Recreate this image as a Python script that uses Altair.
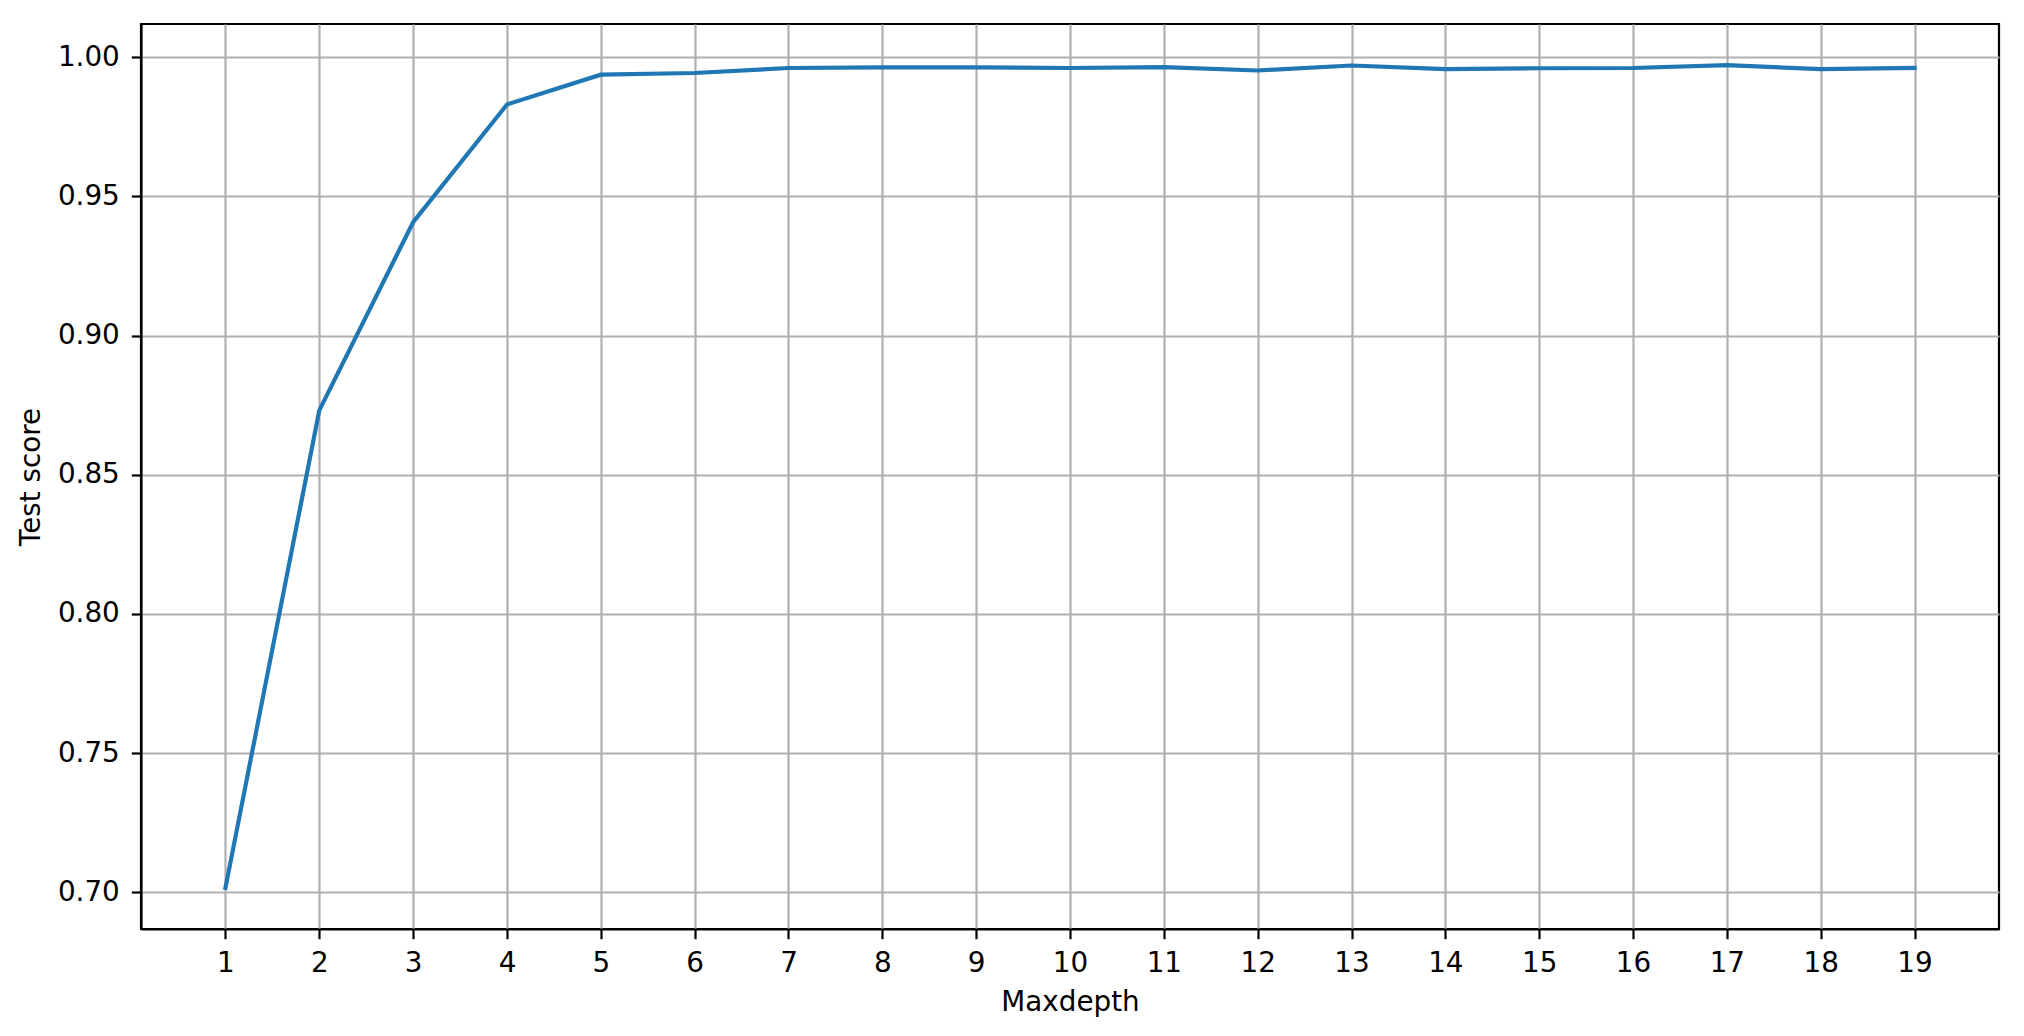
import altair as alt
import pandas as pd

depths = list(range(1, 20))
scores = [0.7016, 0.8731, 0.9407, 0.9830, 0.9937, 0.9943, 0.9961, 0.9963, 0.9963,
          0.9961, 0.9964, 0.9952, 0.9970, 0.9957, 0.9960, 0.9961, 0.9971, 0.9957, 0.9961]
y_ticks = [0.70, 0.75, 0.80, 0.85, 0.90, 0.95, 1.00]

df = pd.DataFrame({"Maxdepth": depths, "Test score": scores})

FONT = "DejaVu Sans"
FS = 27.8

chart = alt.Chart(df).mark_line(color="#1f77b4", strokeWidth=4.2, strokeCap="square").encode(
    x=alt.X("Maxdepth:Q",
            scale=alt.Scale(domain=[0.1, 19.9], nice=False, zero=False),
            axis=alt.Axis(values=depths, title="Maxdepth", format="d", labelPadding=11,
                          titlePadding=11)),
    y=alt.Y("Test score:Q",
            scale=alt.Scale(domain=[0.6868, 1.0119], nice=False, zero=False),
            axis=alt.Axis(values=y_ticks, title="Test score", format=".2f", labelPadding=12,
                          titlePadding=12)),
).properties(
    width=1858, height=905,
    autosize=alt.AutoSizeParams(type="none"),
    padding={"left": 133, "top": 16, "right": 15, "bottom": 94},
).configure_view(
    stroke="black", strokeWidth=2.2
).configure_axis(
    labelFont=FONT, titleFont=FONT, labelFontSize=FS, titleFontSize=FS,
    titleFontWeight="normal", labelColor="black", titleColor="black",
    tickColor="black", tickWidth=2.2, tickSize=9.7,
    domainColor="black", domainWidth=2.2,
    gridColor="#b0b0b0", gridWidth=2.2, grid=True,
)

chart.save("out.html", embed_options={"renderer": "svg", "actions": False})
